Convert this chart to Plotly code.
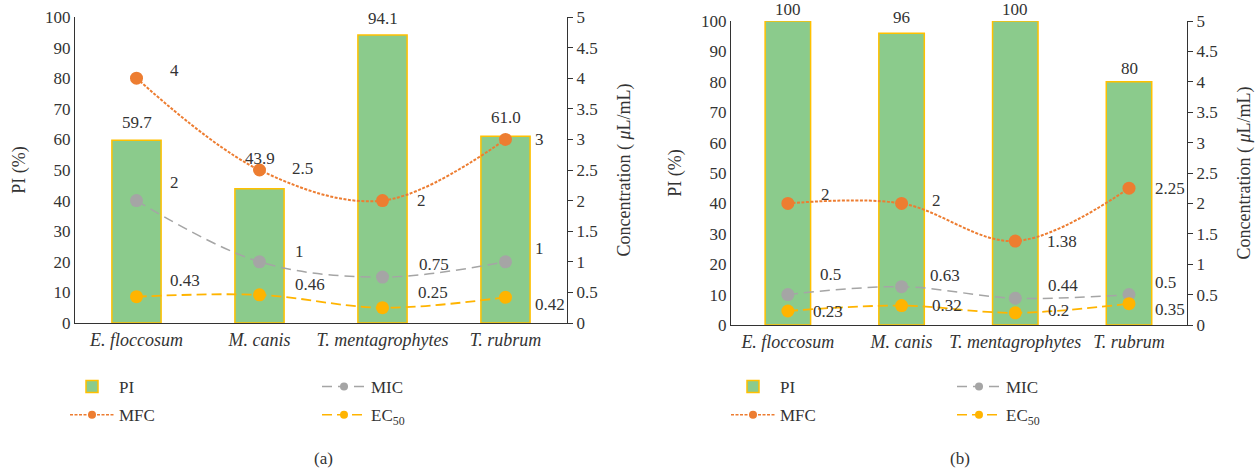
import plotly.graph_objects as go

# ---- data ----
species = ["E. floccosum", "M. canis", "T. mentagrophytes", "T. rubrum"]
species_labels = ["<i>E. floccosum</i>", "<i>M. canis</i>", "<i>T. mentagrophytes</i>", "<i>T. rubrum</i>"]

pi_a = [59.7, 43.9, 94.1, 61.0]
mfc_a = [4, 2.5, 2, 3]
mic_a = [2, 1, 0.75, 1]
ec50_a = [0.43, 0.46, 0.25, 0.42]

pi_b = [100, 96, 100, 80]
mfc_b = [2, 2, 1.38, 2.25]
mic_b = [0.5, 0.63, 0.44, 0.5]
ec50_b = [0.23, 0.32, 0.2, 0.35]

pi_a_text = ["59.7", "43.9", "94.1", "61.0"]
pi_b_text = ["100", "96", "100", "80"]

# ---- style ----
FONT = "Liberation Serif"
TXT = "#333333"
AX = "#333333"
GREEN = "#8BCB8C"
BAR_EDGE = "#FFC000"
ORANGE = "#ED7D31"
GREY = "#A5A5A5"
AMBER = "#FFB400"

LINE_STYLES = {
    "MFC": dict(color=ORANGE, width=2, dash="3px,1.5px"),
    "MIC": dict(color=GREY, width=1.5, dash="10px,6px"),
    "EC<sub>50</sub>": dict(color=AMBER, width=1.8, dash="10px,5px"),
}

fig = go.Figure()


def add_panel(xa, ya, ya2, pi, mfc, mic, ec50, leg1, leg2):
    fig.add_trace(go.Bar(
        x=species, y=pi, name="PI", xaxis=xa, yaxis=ya, width=0.4,
        marker=dict(color=GREEN, line=dict(color=BAR_EDGE, width=1.5)),
        legend=leg1, legendgroup=leg1 + "pi",
    ))
    series = [("MFC", mfc, leg1), ("MIC", mic, leg2), ("EC<sub>50</sub>", ec50, leg2)]
    for name, vals, leg in series:
        st = LINE_STYLES[name]
        fig.add_trace(go.Scatter(
            x=species, y=vals, name=name, xaxis=xa, yaxis=ya2, mode="lines+markers",
            line=dict(st, shape="spline"),
            marker=dict(color=st["color"], size=13), showlegend=False,
        ))
        # legend entry with a compact marker
        fig.add_trace(go.Scatter(
            x=[None], y=[None], name=name, xaxis=xa, yaxis=ya2, mode="lines+markers",
            line=dict(st, width=1.5), marker=dict(color=st["color"], size=8),
            legend=leg, legendgroup=leg + name,
        ))


add_panel("x", "y", "y2", pi_a, mfc_a, mic_a, ec50_a, "legend", "legend2")
add_panel("x2", "y3", "y4", pi_b, mfc_b, mic_b, ec50_b, "legend3", "legend4")

# ---- value labels ----
annotations = []
LABEL_SIZE = 17


def label(x, y, text, xref, yref, dx, dy, anchor="left"):
    annotations.append(dict(
        x=x, y=y, text=text, xref=xref, yref=yref, showarrow=False,
        xanchor=anchor, yanchor="middle", xshift=dx, yshift=dy,
        font=dict(family=FONT, size=LABEL_SIZE, color=TXT),
    ))


def fmt(v):
    return f"{v:g}"


# panel (a)
for i, s in enumerate(species):
    label(s, pi_a[i], pi_a_text[i], "x", "y", 0, [18, 30, 17, 19][i], "center")
    label(s, mfc_a[i], fmt(mfc_a[i]), "x", "y2", [31, 30, 32, 27][i], [8, 2, 0, 0][i])
    label(s, mic_a[i], fmt(mic_a[i]), "x", "y2", [31, 33, 34, 27][i], [18, 10, 13, 13][i])
    label(s, ec50_a[i], fmt(ec50_a[i]), "x", "y2", [31, 33, 33, 27][i], [16, 10, 15, -7][i])

# panel (b)
for i, s in enumerate(species):
    label(s, pi_b[i], pi_b_text[i], "x2", "y3", 0, [12, 16, 12, 13][i], "center")
    label(s, mfc_b[i], fmt(mfc_b[i]), "x2", "y4", [31, 28, 30, 24][i], [9, 3, 0, 0][i])
    label(s, mic_b[i], fmt(mic_b[i]), "x2", "y4", [30, 26, 31, 24][i], [20, 11, 13, 12][i])
    label(s, ec50_b[i], fmt(ec50_b[i]), "x2", "y4", [23, 28, 31, 24][i], [0, 0, 2, -6][i])

W, H = 1260, 470


def px_x(v):
    return v / W


def px_y(v):
    return 1 - v / H


# panel captions
for text, xp in [("(a)", 323), ("(b)", 960)]:
    annotations.append(dict(
        x=px_x(xp), y=px_y(458), xref="paper", yref="paper", text=text, showarrow=False,
        xanchor="center", yanchor="middle", font=dict(family=FONT, size=17, color=TXT),
    ))

tickfont = dict(family=FONT, size=17, color=TXT)
titlefont = dict(family=FONT, size=18, color=TXT)

xcommon = dict(
    type="category", categoryorder="array", categoryarray=species,
    tickmode="array", tickvals=species, ticktext=species_labels,
    showline=True, linecolor=AX, linewidth=1, ticks="", showgrid=False,
    tickfont=dict(family=FONT, size=18, color=TXT), zeroline=False,
    automargin=False, ticklabelstandoff=0,
)
yleft = dict(
    range=[0, 100], dtick=10, showline=True, linecolor=AX, linewidth=1,
    ticks="", showgrid=False, zeroline=False, tickfont=tickfont, automargin=False,
    title=dict(text="PI (%)", font=titlefont, standoff=14),
)
yright = dict(
    range=[0, 5], dtick=0.5, side="right", showline=True, linecolor=AX, linewidth=1,
    ticks="outside", ticklen=5, tickcolor=AX, showgrid=False, zeroline=False,
    tickfont=tickfont, automargin=False,
    title=dict(text="Concentration ( <i>μ</i>L/mL)", font=titlefont, standoff=20),
)

legend_style = dict(
    font=dict(family=FONT, size=17, color=TXT), bgcolor="rgba(0,0,0,0)",
    orientation="v", xanchor="left", yanchor="top", y=px_y(369),
    itemwidth=44, tracegroupgap=3, traceorder="grouped",
)

fig.update_layout(
    width=W, height=H, margin=dict(l=0, r=0, t=0, b=0, autoexpand=False),
    paper_bgcolor="white", plot_bgcolor="white",
    xaxis=dict(xcommon, domain=[px_x(75), px_x(567)], anchor="y"),
    yaxis=dict(yleft, domain=[px_y(323), px_y(17)], anchor="x"),
    yaxis2=dict(yright, overlaying="y", anchor="x"),
    xaxis2=dict(xcommon, domain=[px_x(731), px_x(1187)], anchor="y3"),
    yaxis3=dict(yleft, domain=[px_y(325), px_y(21)], anchor="x2"),
    yaxis4=dict(yright, overlaying="y3", anchor="x2"),
    legend=dict(legend_style, x=px_x(65)),
    legend2=dict(legend_style, x=px_x(317)),
    legend3=dict(legend_style, x=px_x(726)),
    legend4=dict(legend_style, x=px_x(952)),
    annotations=annotations,
    font=dict(family=FONT, size=17, color=TXT),
)

fig.write_html("out.html")
